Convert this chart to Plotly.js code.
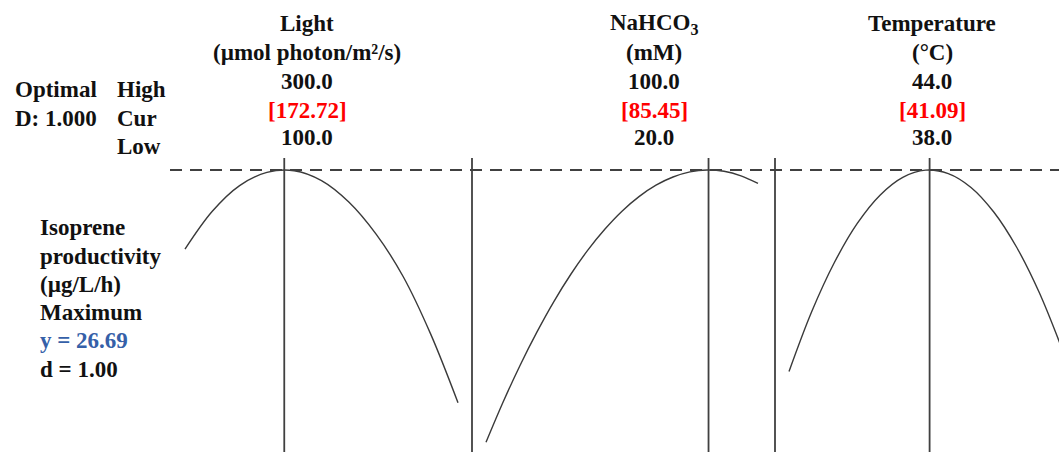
<!DOCTYPE html>
<html>
<head>
<meta charset="utf-8">
<script src="https://cdn.plot.ly/plotly-3.0.1.min.js"></script>
<style>html,body{margin:0;padding:0;background:#fff;}#chart{width:1059px;height:452px;}</style>
</head>
<body>
<div id="chart"></div>
<script>
// ---- data ----
const factorNames = ['Light', 'NaHCO<sub>3</sub>', 'Temperature'];
const factorUnits = ['(µmol photon/m²/s)', '(mM)', '(°C)'];
const highVals = ['300.0', '100.0', '44.0'];
const curVals = [172.72, 85.45, 41.09];
const lowVals = ['100.0', '20.0', '38.0'];

const lightX = [100, 120, 140, 160, 180, 200, 220, 240, 260, 280, 300];
const lightY = [21.15, 23.8, 25.6, 26.52, 26.64, 25.95, 24.45, 22.2, 19.2, 15.2, 10.4];

const nahco3X = [20, 25, 30, 35, 40, 45, 50, 55, 60, 65, 70, 75, 80, 85, 90, 95, 100];
const nahco3Y = [7.63, 10.43, 13.01, 15.36, 17.50, 19.41, 21.10, 22.56, 23.81, 24.83, 25.63, 26.20, 26.56, 26.69, 26.60, 26.28, 25.75];

const tempX = [38, 38.5, 39, 39.5, 40, 40.5, 41, 41.5, 42, 42.5, 43, 43.5, 44];
const tempY = [12.58, 16.78, 20.23, 22.95, 24.93, 26.18, 26.68, 26.44, 25.47, 23.75, 21.30, 18.11, 14.17];

const responseLines = ['Isoprene', 'productivity', '(µg/L/h)', 'Maximum'];
const optimalY = 26.69;
const desirability = '1.00';
const compositeD = '1.000';

// ---- layout helpers ----
const W = 1059, H = 452, MT = 158;
const X = px => px / W;
const Y = py => (H - py) / (H - MT);

const FONT = "'Liberation Serif', 'Times New Roman', serif";
const FS = 23;
const INK = '#111111';
const RED = '#ff0000';
const BLUE = '#3560a8';
const LINE = '#404040';

const curveStyle = {color: '#3a3a3a', width: 1.4, shape: 'spline', smoothing: 1};
const traces = [
  {x: lightX, y: lightY, xaxis: 'x', yaxis: 'y', mode: 'lines', line: curveStyle, hoverinfo: 'skip'},
  {x: nahco3X, y: nahco3Y, xaxis: 'x2', yaxis: 'y', mode: 'lines', line: curveStyle, hoverinfo: 'skip'},
  {x: tempX, y: tempY, xaxis: 'x3', yaxis: 'y', mode: 'lines', line: curveStyle, hoverinfo: 'skip'}
];

const hiddenAxis = (domain, range) => ({domain, range, visible: false, showgrid: false, zeroline: false, fixedrange: true, anchor: 'y'});

const annotations = [];
function txt(text, px, py, anchor, color) {
  annotations.push({text: '<b>' + text + '</b>', x: X(px), y: Y(py), xref: 'paper', yref: 'paper',
    xanchor: anchor || 'center', yanchor: 'middle', showarrow: false,
    font: {family: FONT, size: FS, color: color || INK}});
}
// left header block
txt('Optimal', 13, 90, 'left');
txt('D: ' + compositeD, 13, 118, 'left');
txt('High', 115, 90, 'left');
txt('Cur', 115, 118, 'left');
txt('Low', 115, 146, 'left');
// factor columns
const colCenters = [307, 654, 932];
for (let i = 0; i < 3; i++) {
  const c = colCenters[i];
  txt(factorNames[i], c, 24);
  txt(factorUnits[i], c, 53);
  txt(highVals[i], c, 81);
  txt('[' + curVals[i].toFixed(2) + ']', c, 110, 'center', RED);
  txt(lowVals[i], c, 138);
}
// response block
const respRows = [227, 256, 284, 312];
responseLines.forEach((t, i) => txt(t, 38, respRows[i], 'left'));
txt('y = ' + optimalY.toFixed(2), 38, 340, 'left', BLUE);
txt('d = ' + desirability, 38, 369, 'left');

const xrefs = ['x', 'x2', 'x3'];
const shapes = [];
curVals.forEach((v, i) => shapes.push({type: 'line', xref: xrefs[i], yref: 'paper', x0: v, x1: v, y0: 0, y1: 1,
  line: {color: LINE, width: 1.8}}));
['x2 domain', 'x3 domain'].forEach(r => shapes.push({type: 'line', xref: r, yref: 'paper', x0: 0, x1: 0, y0: 0, y1: 1,
  line: {color: LINE, width: 1.8}}));
shapes.push({type: 'line', xref: 'paper', yref: 'y', x0: X(170), x1: 1, y0: optimalY, y1: optimalY,
  line: {color: LINE, width: 1.8, dash: '12px,8px'}});

const layout = {
  width: W, height: H,
  margin: {l: 0, r: 0, t: MT, b: 0, pad: 0},
  paper_bgcolor: '#ffffff', plot_bgcolor: '#ffffff',
  showlegend: false,
  xaxis: hiddenAxis([X(170), X(472)], [89.01, 310.26]),
  xaxis2: hiddenAxis([X(472), X(775)], [15.88, 105.0]),
  xaxis3: hiddenAxis([X(775), 1], [37.692, 43.934]),
  yaxis: {domain: [0, 1], range: [6.95, 27.53], visible: false, showgrid: false, zeroline: false, fixedrange: true, anchor: 'x'},
  annotations, shapes
};

Plotly.newPlot('chart', traces, layout, {displayModeBar: false, staticPlot: true});
</script>
</body>
</html>
